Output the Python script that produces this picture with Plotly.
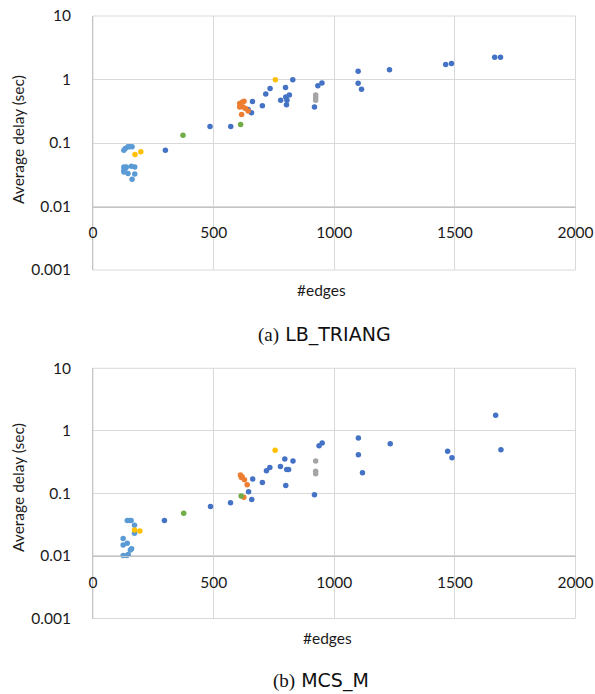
import plotly.graph_objects as go

# ---------------- data: (a) LB_TRIANG ----------------
a_darkblue_x = [300, 485, 571, 643, 657, 661, 702, 716, 734, 778, 798, 799, 802, 804, 814, 828,
                918, 932, 949, 1099, 1099, 1113, 1229, 1462, 1486, 1665, 1689]
a_darkblue_y = [0.077, 0.182, 0.182, 0.337, 0.30, 0.45, 0.385, 0.59, 0.72, 0.47, 0.75, 0.53, 0.40, 0.47, 0.57, 0.99,
                0.37, 0.80, 0.88, 1.35, 0.875, 0.70, 1.42, 1.72, 1.78, 2.24, 2.24]
a_lightblue_x = [128, 134, 145, 152, 162, 128, 138, 128, 128, 145, 159, 173, 173, 162, 135]
a_lightblue_y = [0.077, 0.082, 0.087, 0.087, 0.087, 0.042, 0.042, 0.0375, 0.035, 0.033, 0.043, 0.042, 0.0325, 0.0268, 0.040]
a_orange_x = [608, 618, 626, 608, 622, 632, 643, 616]
a_orange_y = [0.42, 0.44, 0.456, 0.37, 0.37, 0.35, 0.32, 0.28]
a_grey_x = [923, 923, 923]
a_grey_y = [0.57, 0.52, 0.47]
a_yellow_x = [174, 198, 756]
a_yellow_y = [0.066, 0.073, 0.99]
a_green_x = [373, 612]
a_green_y = [0.133, 0.196]

# ---------------- data: (b) MCS_M ----------------
b_darkblue_x = [296, 487, 570, 645, 658, 662, 702, 719, 733, 777, 795, 799, 803, 811, 829, 918,
                937, 950, 1100, 1100, 1117, 1232, 1470, 1488, 1669, 1691]
b_darkblue_y = [0.037, 0.062, 0.071, 0.106, 0.080, 0.17, 0.150, 0.23, 0.26, 0.27, 0.354, 0.134, 0.24, 0.24, 0.33, 0.095,
                0.58, 0.64, 0.77, 0.415, 0.214, 0.62, 0.47, 0.37, 1.78, 0.50]
b_lightblue_x = [142, 150, 158, 172, 172, 125, 142, 125, 160, 155, 125, 146, 140]
b_lightblue_y = [0.037, 0.037, 0.037, 0.031, 0.023, 0.019, 0.016, 0.015, 0.013, 0.0125, 0.0102, 0.0105, 0.0102]
b_orange_x = [611, 615, 618, 628, 639, 625]
b_orange_y = [0.197, 0.18, 0.185, 0.166, 0.138, 0.087]
b_grey_x = [923, 923, 923]
b_grey_y = [0.33, 0.225, 0.207]
b_yellow_x = [172, 194, 755]
b_yellow_y = [0.026, 0.025, 0.49]
b_green_x = [376, 614]
b_green_y = [0.048, 0.091]

x_ticks = [0, 500, 1000, 1500, 2000]
y_tickvals = [0.001, 0.01, 0.1, 1, 10]
y_ticktext = ["0.001", "0.01", "0.1", "1", "10"]

COL = {"darkblue": "#4472C4", "lightblue": "#5B9BD5", "orange": "#ED7D31",
       "grey": "#A5A5A5", "yellow": "#FFC000", "green": "#70AD47"}

W, H = 595, 694
FONT = "Lato"
TXT = "#1a1a1a"
GRID = "#d9d9d9"
AXL = "#c4c4c4"

fig = go.Figure()

def add_series(xs, ys, color, xa, ya):
    fig.add_trace(go.Scatter(x=xs, y=ys, mode="markers", xaxis=xa, yaxis=ya,
                             marker=dict(color=color, size=5.5, line=dict(width=0)),
                             showlegend=False, hoverinfo="x+y"))

for xa, ya, sets in [
    ("x", "y", [(a_darkblue_x, a_darkblue_y, "darkblue"), (a_lightblue_x, a_lightblue_y, "lightblue"),
                (a_orange_x, a_orange_y, "orange"), (a_grey_x, a_grey_y, "grey"),
                (a_yellow_x, a_yellow_y, "yellow"), (a_green_x, a_green_y, "green")]),
    ("x2", "y2", [(b_darkblue_x, b_darkblue_y, "darkblue"), (b_lightblue_x, b_lightblue_y, "lightblue"),
                  (b_orange_x, b_orange_y, "orange"), (b_grey_x, b_grey_y, "grey"),
                  (b_yellow_x, b_yellow_y, "yellow"), (b_green_x, b_green_y, "green")]),
]:
    for xs, ys, c in sets:
        add_series(xs, ys, COL[c], xa, ya)

# pixel geometry of plot areas
xdom = [93 / W, 575.5 / W]
top_dom = [1 - 270 / H, 1 - 16 / H]
bot_dom = [1 - 618.5 / H, 1 - 368.3 / H]

def cross_pos(dom):
    # x axis crosses the y axis at 0.01 (log range -3..1)
    return dom[0] + (dom[1] - dom[0]) * ((-2) - (-3)) / 4.0

xaxis_common = dict(range=[0, 2000], tickvals=x_ticks, showgrid=True, gridcolor=GRID, gridwidth=1,
                    zeroline=False, showline=True, linecolor=AXL, linewidth=1, ticks="",
                    ticklabelstandoff=12, tickfont=dict(family=FONT, size=15.5, color=TXT),
                    anchor="free", domain=xdom, automargin=False)
yaxis_common = dict(type="log", range=[-3, 1], tickvals=y_tickvals, ticktext=y_ticktext,
                    showgrid=True, gridcolor=GRID, gridwidth=1, zeroline=False,
                    showline=True, linecolor=AXL, linewidth=1, ticks="", automargin=False,
                    ticklabelstandoff=18, tickfont=dict(family=FONT, size=15.5, color=TXT))

fig.update_layout(
    width=W, height=H, margin=dict(l=0, r=0, t=0, b=0, pad=0), autosize=False,
    paper_bgcolor="white", plot_bgcolor="white",
    xaxis=dict(**xaxis_common, position=cross_pos(top_dom)),
    yaxis=dict(**yaxis_common, domain=top_dom, anchor="x"),
    xaxis2=dict(**xaxis_common, position=cross_pos(bot_dom)),
    yaxis2=dict(**yaxis_common, domain=bot_dom, anchor="x2"),
)

# plot-area borders
for xr, yr in [("x", "y"), ("x2", "y2")]:
    fig.add_shape(type="rect", xref=f"{xr} domain", yref=f"{yr} domain", x0=0, x1=1, y0=0, y1=1,
                  line=dict(color=GRID, width=1), fillcolor="rgba(0,0,0,0)", layer="below")

ann_font = dict(family=FONT, size=15.5, color=TXT)
cap_font = dict(family="DejaVu Sans", size=19, color="#111")
annotations = [
    dict(text="Average delay (sec)", x=18 / W, y=1 - 140 / H, textangle=-90, font=ann_font),
    dict(text="Average delay (sec)", x=18 / W, y=1 - 488 / H, textangle=-90, font=ann_font),
    dict(text="#edges", x=321 / W, y=1 - 290 / H, font=ann_font),
    dict(text="#edges", x=327 / W, y=1 - 638 / H, font=ann_font),
    dict(text='<span style="font-family:\'Liberation Serif\'">(a)</span> LB_TRIANG',
         x=324 / W, y=1 - 334 / H, font=cap_font),
    dict(text='<span style="font-family:\'Liberation Serif\'">(b)</span> MCS_M',
         x=321 / W, y=1 - 680 / H, font=cap_font),
]
for a in annotations:
    fig.add_annotation(xref="paper", yref="paper", showarrow=False,
                       xanchor="center", yanchor="middle", **a)

fig.write_html("out.html")
